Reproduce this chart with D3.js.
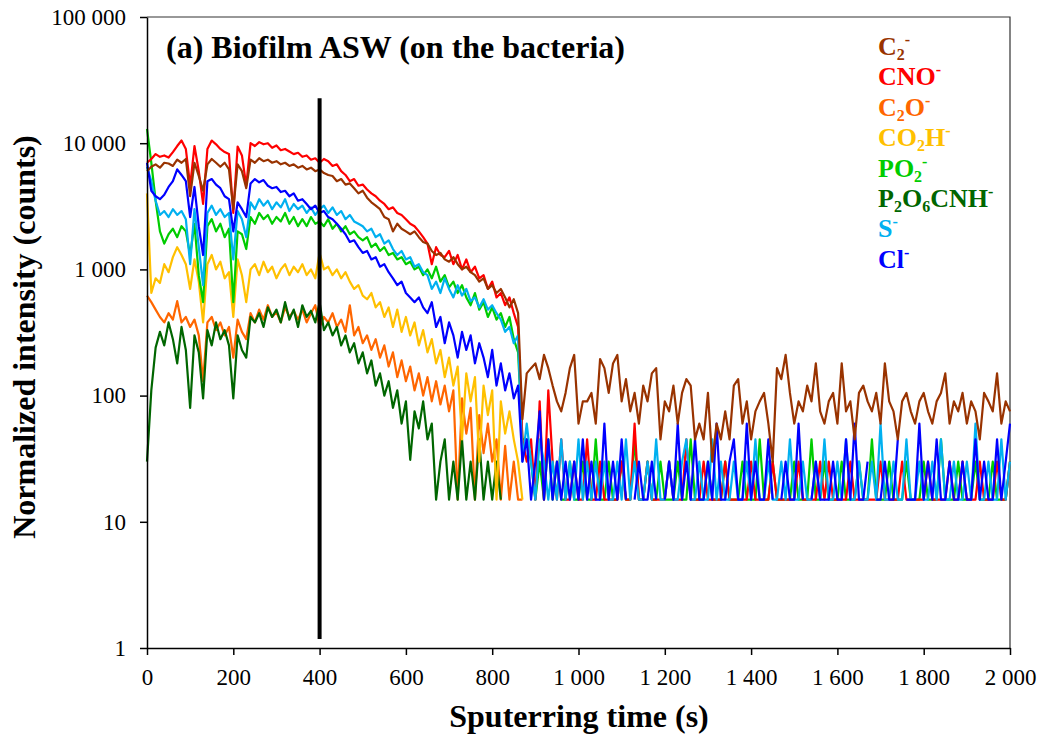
<!DOCTYPE html>
<html><head><meta charset="utf-8">
<script src="https://cdn.jsdelivr.net/npm/d3@7"></script>
<style>body{margin:0;background:#fff}svg{display:block}</style>
</head><body><svg id="chart" width="1045" height="740"></svg>
<script>
// sampling step of the sputtering time (s)
const timeStep = 10;
const xTicks = [0, 200, 400, 600, 800, 1000, 1200, 1400, 1600, 1800, 2000];
const yTicks = [1, 10, 100, 1000, 10000, 100000];
const markerTime = 400;
const markerRange = [1.18, 22700];

// C2-  (t = 0 ... 2000 s)
const c2 = [6000,6500,6800,6400,7000,6900,6600,7400,7000,7500,
 3800,7000,5500,4200,6800,7500,7000,6500,7000,6200,
 3000,6800,6000,4400,7400,7000,7600,7200,7400,7000,
 7200,6800,7000,6600,6800,6400,6600,6200,6400,6000,
 6200,5800,5600,5500,5000,5200,4700,4800,4400,4000,
 4200,3700,3400,3200,3000,2600,2500,2000,2300,2100,
 2000,1900,2000,1800,1650,1600,1400,1300,1350,1200,
 1150,1250,1100,1000,1050,950,900,800,850,700,
 750,650,700,600,500,580,450,65,
 150,165,180,135,210,165,120,90,75,105,
 165,210,60,90,90,105,60,195,165,105,
 180,210,90,135,75,105,60,120,90,150,
 165,45,90,75,120,60,105,135,120,45,
 60,45,105,30,60,45,75,45,120,135,
 60,90,45,75,90,105,60,30,165,135,
 210,105,60,90,75,120,90,180,75,60,
 90,105,60,180,75,90,45,105,120,90,
 75,105,60,180,90,75,45,90,105,75,
 60,90,105,75,60,90,105,150,60,90,
 75,105,60,90,75,45,105,90,75,150,
 60,90,75];

// CNO-
const cno = [7000,7500,8200,7800,8000,7700,8500,9500,10500,9000,
 4600,9500,6000,3300,9000,10500,9800,9000,8500,8200,
 2800,9400,8000,4600,10000,9500,10200,9800,10000,9200,
 9600,8800,9000,8600,8200,8400,7800,8000,7400,7600,
 7000,7500,7200,6600,6800,6000,5600,5000,5200,4600,
 4700,4300,4000,3800,3500,3300,3000,3100,2800,2700,
 2500,2300,2200,2000,1800,1600,1100,1500,1300,1250,
 1400,1100,1300,1000,1200,950,1050,850,900,700,
 800,600,650,520,600,450,350,45,
 30,45,15,90,15,110,30,15,45,15,
 15,30,15,15,45,15,15,30,15,15,
 15,15,30,15,15,60,15,15,30,15,
 15,15,15,30,15,15,15,45,15,15,
 15,30,15,15,15,15,30,15,15,15,
 15,15,30,15,15,15,15,30,15,15,
 15,15,15,30,15,15,15,15,30,15,
 30,15,15,15,15,30,15,15,15,15,
 15,15,30,15,15,15,15,30,15,15,
 15,15,15,30,15,15,15,15,30,15,
 15,30,15,15,15,30,15,15,15,30,
 15,15,30];

// C2O-
const c2o = [620,550,480,420,380,450,400,560,380,420,
 350,400,300,130,380,420,330,380,300,350,
 200,400,320,280,450,380,480,400,520,420,
 460,380,500,420,470,400,480,380,450,520,
 350,420,380,450,350,400,320,520,300,350,
 260,300,230,280,200,250,170,220,140,190,
 130,170,110,150,100,140,90,130,85,120,
 75,110,15,95,50,80,15,70,35,60,
 30,45,15,40,15,30,15,15];

// CO2H-
const co2h = [4000,650,850,780,1100,950,1250,1500,1300,1100,
 700,1200,800,380,1100,1300,1000,1150,850,950,
 420,1200,900,550,1000,1100,900,1150,950,1050,
 850,1000,1100,900,1050,950,1100,900,1000,850,
 1350,1000,1050,900,1000,850,950,800,700,750,
 620,580,650,500,550,420,500,350,480,320,
 420,300,380,250,330,220,280,180,230,140,
 200,120,170,45,150,90,140,30,120,70,
 110,15,90,50,75,45,30,15];

// PO2-
const po2 = [13000,7000,3500,2000,1600,1900,2100,1800,2200,2000,
 1300,2300,900,550,2200,2500,2000,2300,1800,2100,
 550,2000,1900,1450,2600,2300,2800,2500,2700,2300,
 2600,2400,2800,2300,2600,2200,2500,2200,2600,2300,
 2400,2200,2500,2100,2300,2000,2200,1900,2000,1800,
 1700,1800,1500,1600,1400,1500,1300,1350,1200,1250,
 1100,1150,1000,1050,900,1000,850,1050,800,900,
 720,800,650,750,600,520,650,480,550,420,
 500,400,450,350,420,280,220,45,
 45,30,15,30,15,45,15,30,15,15,
 30,15,15,30,15,15,45,15,15,30,
 15,15,30,15,15,45,15,15,30,15,
 15,30,15,15,15,30,15,15,45,15,
 15,15,30,15,15,15,30,15,15,15,
 30,15,15,15,45,15,15,30,15,15,
 15,15,30,15,15,15,45,15,15,30,
 15,15,15,30,15,15,15,30,15,15,
 45,15,15,15,30,15,15,15,30,15,
 15,15,30,15,15,15,45,15,15,15,
 30,15,15,15,30,15,15,15,30,15,
 15,15,30];

// P2O6CNH-
const p2o6cnh = [30,110,240,320,250,380,280,180,350,230,
 80,300,220,95,330,250,380,280,330,250,
 95,300,230,200,420,380,450,350,500,420,
 480,380,550,400,480,350,520,420,470,380,
 550,330,380,300,350,250,300,220,260,180,
 220,150,190,120,150,100,130,80,110,60,
 90,31,75,55,90,45,60,15,30,45,
 15,30,15,45,15,30,15,45,15,30,
 15,30,15,0,0,0,0,0];

// S-
const sAnion = [6500,5000,3500,2700,2900,2600,3000,2700,2900,2500,
 1100,3000,1500,750,2800,3200,2700,3000,2600,2800,
 1200,2900,2500,1800,3400,3000,3600,3200,3500,3000,
 3400,3100,3600,2900,3300,3000,3200,2800,3100,2700,
 3000,3200,2800,3100,2700,2900,2500,2700,2400,2300,
 2200,2000,2100,1800,1900,1600,1700,1450,1300,1400,
 1200,1250,1050,1100,950,900,700,800,650,850,
 700,600,750,620,700,560,600,500,580,480,
 520,450,400,320,350,260,300,30,
 60,30,15,45,30,15,30,15,45,15,
 30,15,45,15,30,15,30,15,30,15,
 15,30,15,45,15,30,15,15,30,15,
 45,15,15,30,15,15,30,45,15,15,
 30,15,15,45,15,30,15,15,30,15,
 15,30,15,45,15,15,30,15,15,30,
 15,45,15,15,30,15,15,30,15,45,
 15,15,30,15,45,15,15,30,15,15,
 30,15,60,15,15,30,15,15,45,15,
 15,30,15,15,30,15,45,15,15,30,
 15,15,30,15,60,15,15,30,15,15,
 45,15,30];

// Cl-
const cl = [7000,4200,3800,3600,3900,4500,5000,6200,5600,5000,
 2600,4500,2200,1300,5000,5200,4700,4400,3800,3600,
 2000,3400,3000,2600,4800,5200,4900,5100,4600,4400,
 4500,4100,4200,3800,4000,3500,3600,3300,3000,3200,
 2800,2900,2600,2500,2300,2100,1900,1650,1700,1500,
 1350,1400,1200,1250,1050,1100,950,850,750,800,
 650,600,550,600,500,450,550,350,420,260,
 380,300,200,320,230,300,180,260,200,140,
 230,120,180,110,150,95,120,30,
 45,15,30,75,15,45,15,30,15,30,
 15,30,15,45,15,30,15,15,60,15,
 30,15,45,15,0,15,30,15,15,30,
 15,0,15,30,15,60,15,30,15,45,
 15,15,30,15,60,15,15,30,45,15,
 15,60,15,30,15,15,45,15,0,15,
 30,15,15,60,15,0,15,30,15,15,
 15,30,15,15,45,15,60,15,15,30,
 0,15,15,30,15,15,45,0,15,15,
 15,60,15,30,15,45,15,15,30,15,
 15,30,15,15,45,15,30,15,15,45,
 15,30,60];

const seriesNames = ["C2-", "CNO-", "C2O-", "CO2H-", "PO2-", "P2O6CNH-", "S-", "Cl-"];
const seriesValues = [c2, cno, c2o, co2h, po2, p2o6cnh, sAnion, cl];
const seriesColors = ["#993300", "#FF0000", "#FF6600", "#FFC000", "#00CC00", "#006600", "#00B0F0", "#0000FF"];
// legend label pieces: [text, role]
const legendParts = [
  [["C",""],["2","sub"],["-","sup"]],
  [["CNO",""],["-","sup"]],
  [["C",""],["2","sub"],["O",""],["-","sup"]],
  [["CO",""],["2","sub"],["H",""],["-","sup"]],
  [["PO",""],["2","sub"],["-","sup"]],
  [["P",""],["2","sub"],["O",""],["6","sub"],["CNH",""],["-","sup"]],
  [["S",""],["-","sup"]],
  [["Cl",""],["-","sup"]]
];
const drawOrder = [2, 5, 3, 4, 1, 6, 7, 0];

const svg = d3.select("#chart");
const W = 1045, H = 740;
const L = 147, R = 1010, T = 17, B = 648;
svg.append("rect").attr("width", W).attr("height", H).attr("fill", "#fff");

const x = d3.scaleLinear().domain([0, 2000]).range([L, R]);
const y = d3.scaleLog().domain([1, 100000]).range([B, T]);
const fmt = v => d3.format(",")(v).replace(/,/g, " ");
const serif = "'Liberation Serif','Times New Roman',serif";

// frame
svg.append("path").attr("d", `M${L},${T}H${R}V${B}`).attr("fill", "none")
  .attr("stroke", "#333").attr("stroke-width", 1.2);

// lines
const line = d3.line()
  .defined(d => d.v > 0)
  .x(d => x(d.t)).y(d => y(d.v));
const gLines = svg.append("g");
drawOrder.forEach(i => {
  const data = seriesValues[i].map((v, k) => ({ t: k * timeStep, v }));
  gLines.append("path").datum(data)
    .attr("d", line)
    .attr("fill", "none")
    .attr("stroke", seriesColors[i])
    .attr("stroke-width", 2.2)
    .attr("stroke-linejoin", "round");
});

// axes
const gx = svg.append("g").attr("transform", `translate(0,${B})`)
  .call(d3.axisBottom(x).tickValues(xTicks).tickSize(7).tickSizeOuter(0).tickPadding(14).tickFormat(fmt));
const gy = svg.append("g").attr("transform", `translate(${L},0)`)
  .call(d3.axisLeft(y).tickValues(yTicks).tickSize(7).tickSizeOuter(0).tickPadding(14).tickFormat(fmt));
[gx, gy].forEach(g => {
  g.selectAll("path, line").attr("stroke", "#000").attr("stroke-width", 1.5);
  g.selectAll("text").attr("font-family", serif).attr("font-size", 23).attr("fill", "#000");
});

// marker line at 400 s
svg.append("line")
  .attr("x1", x(markerTime)).attr("x2", x(markerTime))
  .attr("y1", y(markerRange[1])).attr("y2", y(markerRange[0]))
  .attr("stroke", "#000").attr("stroke-width", 4);

// title
svg.append("text").attr("x", 166).attr("y", 58)
  .attr("font-family", serif).attr("font-weight", "bold").attr("font-size", 32)
  .text("(a) Biofilm ASW (on the bacteria)");

// axis titles
svg.append("text").attr("x", 579).attr("y", 727).attr("text-anchor", "middle")
  .attr("font-family", serif).attr("font-weight", "bold").attr("font-size", 32)
  .text("Sputerring time (s)");
svg.append("text").attr("transform", "translate(35,337) rotate(-90)").attr("text-anchor", "middle")
  .attr("font-family", serif).attr("font-weight", "bold").attr("font-size", 32)
  .text("Normalized intensity (counts)");

// legend
legendParts.forEach((parts, i) => {
  const t = svg.append("text").attr("x", 878).attr("y", 55 + i * 30.4)
    .attr("font-family", serif).attr("font-weight", "bold").attr("font-size", 26)
    .attr("fill", seriesColors[i]);
  let shift = 0;
  parts.forEach(([txt, role]) => {
    let target = role === "sub" ? 5 : role === "sup" ? -10 : 0;
    const ts = t.append("tspan").attr("dy", target - shift).text(txt);
    if (role) ts.attr("font-size", 16);
    shift = target;
  });
});
</script></body></html>
